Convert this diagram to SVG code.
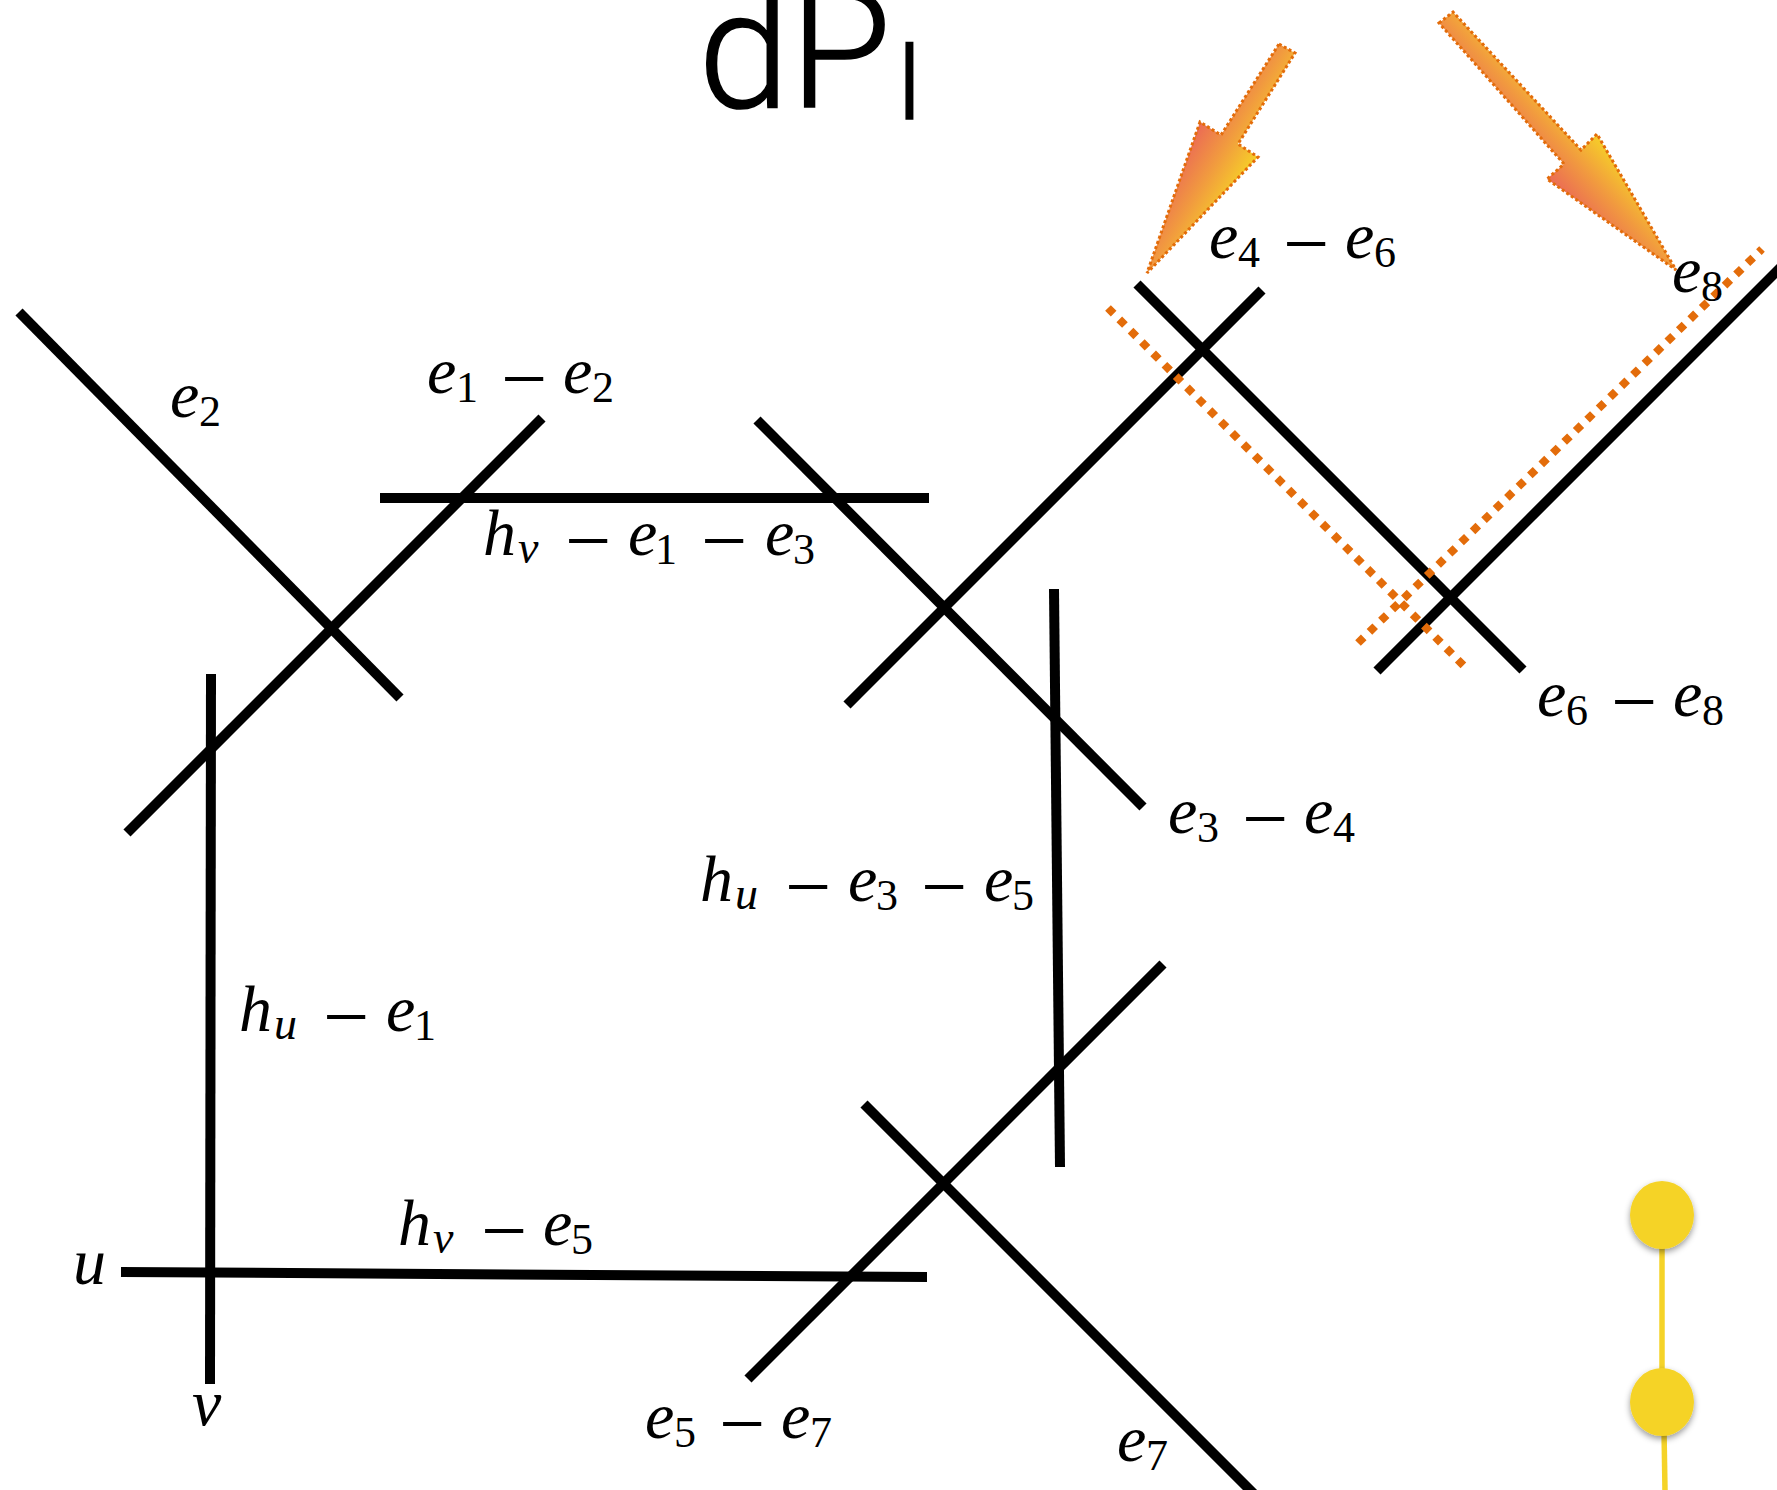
<svg xmlns="http://www.w3.org/2000/svg" width="1777" height="1490" viewBox="0 0 1777 1490">
<style>
.l{stroke:#000;stroke-width:10;fill:none}
.d{stroke:#E36C0A;stroke-width:8;stroke-dasharray:8 8;fill:none}
.a{stroke:#E36C0A;stroke-width:3;stroke-dasharray:3 2.5}
.m{font-family:"Liberation Serif","DejaVu Serif",serif;font-size:66px;font-style:italic;fill:#000}
.s{font-size:44px;font-style:normal}
.si{font-size:46px;font-style:italic}
.o{font-size:82px;font-style:normal}
.t{font-family:Roboto,"Liberation Sans",sans-serif;font-weight:300;fill:#000;stroke:#000;stroke-width:1.5px}
</style>
<defs>
<linearGradient id="g1" gradientUnits="userSpaceOnUse" x1="1200" y1="122" x2="1258" y2="157"><stop offset="0" stop-color="#EB6A55"/><stop offset=".5" stop-color="#F19A3F"/><stop offset="1" stop-color="#F6CF28"/></linearGradient>
<linearGradient id="g2" gradientUnits="userSpaceOnUse" x1="1547" y1="179" x2="1597" y2="134"><stop offset="0" stop-color="#EB6A55"/><stop offset=".5" stop-color="#F19A3F"/><stop offset="1" stop-color="#F6CF28"/></linearGradient>
<filter id="sh" x="-30%" y="-30%" width="160%" height="170%"><feDropShadow dx="0" dy="3" stdDeviation="3" flood-color="#000" flood-opacity=".4"/></filter>
</defs>
<rect width="1777" height="1490" fill="#fff"/>
<g id="connectors">
<line class="l" x1="19" y1="312" x2="400" y2="698"/>
<line class="l" x1="127" y1="833" x2="542" y2="418"/>
<line class="l" x1="380" y1="498" x2="929" y2="498"/>
<line class="l" x1="757" y1="420" x2="1143" y2="807"/>
<line class="l" x1="847" y1="705" x2="1262" y2="290"/>
<line class="l" x1="1137" y1="284" x2="1523" y2="670"/>
<line class="l" x1="1377" y1="671" x2="1790" y2="258"/>
<line class="l" x1="1054" y1="589" x2="1060" y2="1167"/>
<line class="l" x1="748" y1="1379" x2="1163" y2="964"/>
<line class="l" x1="864" y1="1104" x2="1254" y2="1494"/>
<line class="l" x1="121" y1="1272" x2="927" y2="1277"/>
<line class="l" x1="211" y1="674" x2="210" y2="1384"/>
<line class="d" x1="1108" y1="308" x2="1465" y2="667"/>
<line class="d" x1="1358" y1="643" x2="1762" y2="249"/>
<line x1="1662" y1="1240" x2="1662" y2="1380" stroke="#F5D328" stroke-width="5.5"/>
<line x1="1664" y1="1430" x2="1665" y2="1490" stroke="#F5D328" stroke-width="5.5"/>
</g>
<g id="arrow-1"><polygon class="a" fill="url(#g1)" points="1279,44 1295,53 1238,144 1258,157 1147,273 1200,122 1221,135"/></g>
<g id="arrow-2"><polygon class="a" fill="url(#g2)" points="1439,23 1453,12 1581,150 1597,134 1676,270 1547,179 1564,164"/></g>
<g id="node-1"><ellipse cx="1662" cy="1215" rx="32" ry="34" fill="#F5D328" filter="url(#sh)"/></g>
<g id="node-2"><ellipse cx="1662" cy="1402" rx="32" ry="34" fill="#F5D328" filter="url(#sh)"/></g>
<g id="title"><text class="t"><tspan x="698" y="107" font-size="165">dP</tspan><tspan x="895" y="119" font-size="108">I</tspan></text></g>
<g id="labels">
<text class="m"><tspan x="170" y="417">e</tspan><tspan class="s" x="199" y="426">2</tspan></text>
<text class="m"><tspan x="427" y="393">e</tspan><tspan class="s" x="456" y="402">1</tspan><tspan class="o" x="501" y="406">−</tspan><tspan x="563" y="393">e</tspan><tspan class="s" x="592" y="402">2</tspan></text>
<text class="m"><tspan x="483" y="555">h</tspan><tspan class="si" x="518" y="563">v</tspan><tspan class="o" x="565" y="568">−</tspan><tspan x="628" y="555">e</tspan><tspan class="s" x="655" y="564">1</tspan><tspan class="o" x="701" y="568">−</tspan><tspan x="765" y="555">e</tspan><tspan class="s" x="793" y="564">3</tspan></text>
<text class="m"><tspan x="1168" y="833">e</tspan><tspan class="s" x="1197" y="842">3</tspan><tspan class="o" x="1242" y="846">−</tspan><tspan x="1304" y="833">e</tspan><tspan class="s" x="1333" y="842">4</tspan></text>
<text class="m"><tspan x="1209" y="258">e</tspan><tspan class="s" x="1238" y="267">4</tspan><tspan class="o" x="1283" y="271">−</tspan><tspan x="1345" y="258">e</tspan><tspan class="s" x="1374" y="267">6</tspan></text>
<text class="m"><tspan x="1537" y="716">e</tspan><tspan class="s" x="1566" y="725">6</tspan><tspan class="o" x="1611" y="729">−</tspan><tspan x="1673" y="716">e</tspan><tspan class="s" x="1702" y="725">8</tspan></text>
<text class="m"><tspan x="1672" y="292">e</tspan><tspan class="s" x="1701" y="301">8</tspan></text>
<text class="m"><tspan x="700" y="901">h</tspan><tspan class="si" x="735" y="909">u</tspan><tspan class="o" x="785" y="914">−</tspan><tspan x="848" y="901">e</tspan><tspan class="s" x="876" y="910">3</tspan><tspan class="o" x="921" y="914">−</tspan><tspan x="984" y="901">e</tspan><tspan class="s" x="1012" y="910">5</tspan></text>
<text class="m"><tspan x="239" y="1031">h</tspan><tspan class="si" x="274" y="1039">u</tspan><tspan class="o" x="323" y="1044">−</tspan><tspan x="386" y="1031">e</tspan><tspan class="s" x="414" y="1040">1</tspan></text>
<text class="m"><tspan x="398" y="1245">h</tspan><tspan class="si" x="433" y="1253">v</tspan><tspan class="o" x="481" y="1258">−</tspan><tspan x="543" y="1245">e</tspan><tspan class="s" x="571" y="1254">5</tspan></text>
<text class="m"><tspan x="73" y="1284">u</tspan></text>
<text class="m"><tspan x="192" y="1425">v</tspan></text>
<text class="m"><tspan x="645" y="1438">e</tspan><tspan class="s" x="674" y="1447">5</tspan><tspan class="o" x="719" y="1451">−</tspan><tspan x="781" y="1438">e</tspan><tspan class="s" x="810" y="1447">7</tspan></text>
<text class="m"><tspan x="1117" y="1461">e</tspan><tspan class="s" x="1146" y="1470">7</tspan></text>
</g>
</svg>
